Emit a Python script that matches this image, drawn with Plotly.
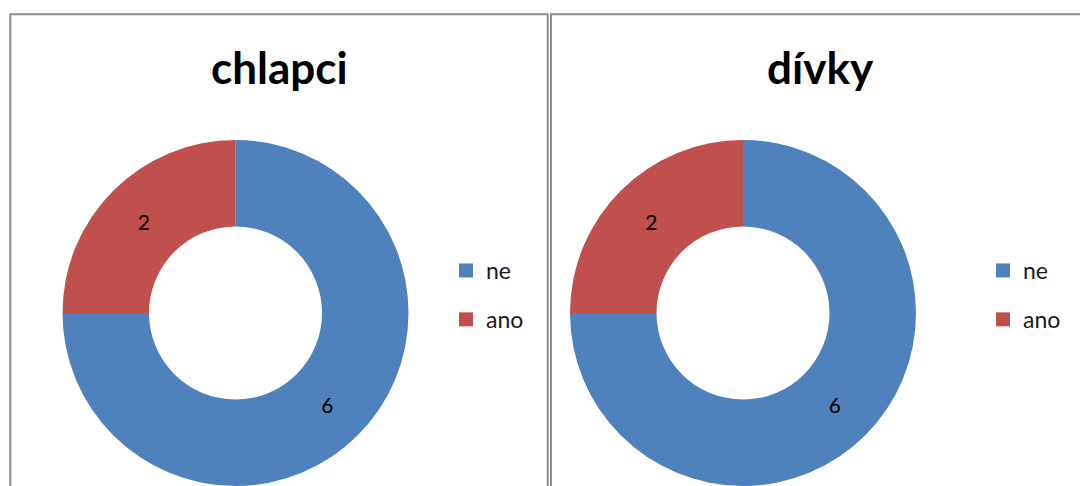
import plotly.graph_objects as go

# ---- data ----
panel_titles = ["chlapci", "dívky"]
labels = ["ne", "ano"]
values_chlapci = [6, 2]
values_divky = [6, 2]
colors = ["#4F81BD", "#C0504D"]

W, H = 1080, 486
FONT = "Lato, Carlito, Calibri, sans-serif"


def px_x(x):
    return x / W


def px_y(y):
    return 1 - y / H


fig = go.Figure()

pie_specs = [
    (values_chlapci, (61.5, 409.5)),
    (values_divky, (569, 917)),
]
for vals, (x0, x1) in pie_specs:
    fig.add_trace(go.Pie(
        labels=labels,
        values=vals,
        hole=0.5,
        sort=False,
        direction="clockwise",
        rotation=0,
        marker=dict(colors=colors, line=dict(width=0)),
        textinfo="value",
        textposition="inside",
        insidetextorientation="horizontal",
        textfont=dict(family=FONT, size=21, color="#000000"),
        domain=dict(x=[px_x(x0), px_x(x1)], y=[0, px_y(140)]),
        showlegend=False,
        hoverinfo="label+value",
    ))

# legend entries (one group per label so that spacing can be set)
for leg in ["legend", "legend2"]:
    for lab, col in zip(labels, colors):
        fig.add_trace(go.Scatter(
            x=[None], y=[None], mode="markers", name=lab,
            marker=dict(symbol="square", size=14, color=col),
            legend=leg, legendgroup=leg + lab, showlegend=True,
        ))

legend_common = dict(
    xanchor="left", yanchor="middle",
    font=dict(family=FONT, size=23, color="#1a1a1a"),
    bgcolor="rgba(0,0,0,0)", borderwidth=0,
    tracegroupgap=16, orientation="v",
)
fig.update_layout(
    legend=dict(x=px_x(446), y=px_y(295), **legend_common),
    legend2=dict(x=px_x(983), y=px_y(295), **legend_common),
)

# panel borders
panels = [(10.3, 547.7), (551, 1089)]
for x0, x1 in panels:
    fig.add_shape(type="rect", xref="paper", yref="paper",
                  x0=px_x(x0), x1=px_x(x1), y0=px_y(14.3), y1=px_y(520),
                  line=dict(color="#8c8c8c", width=2), fillcolor="rgba(0,0,0,0)")

# titles
for (x0, x1), t in zip(panels, panel_titles):
    fig.add_annotation(text=f"<b>{t}</b>", xref="paper", yref="paper",
                       x=px_x((x0 + x1) / 2), y=px_y(67), xanchor="center", yanchor="middle",
                       showarrow=False, font=dict(family=FONT, size=44, color="#000000"))

fig.update_layout(
    width=W, height=H,
    margin=dict(l=0, r=0, t=0, b=0),
    paper_bgcolor="white", plot_bgcolor="white",
    xaxis=dict(visible=False), yaxis=dict(visible=False),
)

fig.write_html(
    "out.html",
    config={"displayModeBar": False},
    post_script="document.body.style.margin='0';document.body.style.padding='0';",
)
